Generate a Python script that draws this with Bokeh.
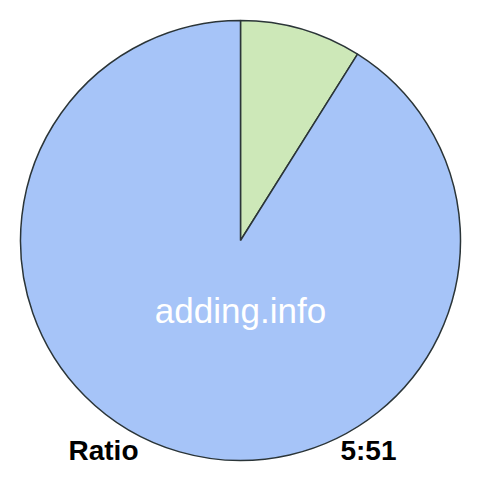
import math
from bokeh.plotting import figure
from bokeh.models import Range1d, ColumnDataSource
from bokeh.core.properties import value
from bokeh.embed import file_html
from bokeh.resources import INLINE

labels = ["5", "51"]
values = [5, 51]
colors = ["#cde8b8", "#a6c4f8"]
ratio_label = "Ratio"
ratio_text = "5:51"
watermark = "adding.info"

total = sum(values)
ends = []
starts = []
cur = math.pi / 2
for v in values:
    ang = v / total * 2 * math.pi
    # clockwise from top
    starts.append(cur - ang)
    ends.append(cur)
    cur -= ang

src = ColumnDataSource(dict(start=starts, end=ends, color=colors, label=labels))

W = 464
H = 464
p = figure(width=W, height=H, output_backend="svg", toolbar_location=None,
           x_range=Range1d(0, W), y_range=Range1d(0, H), min_border=0)
p.axis.visible = False
p.grid.visible = False
p.outline_line_color = None
p.background_fill_color = "white"
p.border_fill_color = "white"

cx, cy = 240, H - 240

p.wedge(x=cx, y=cy, radius=220, start_angle="start", end_angle="end",
        fill_color="color", line_color="#2b3538", line_width=1.5, source=src)

p.text(x=[240], y=[H - 310], text=[watermark], text_color="white",
       text_font=value("Liberation Sans"), text_font_size="35px",
       text_align="center", text_baseline="middle")

p.text(x=[68], y=[H - 450], text=[ratio_label], text_color="black",
       text_font=value("Liberation Sans"), text_font_size="28px",
       text_font_style="bold", text_align="left", text_baseline="middle")
p.text(x=[396], y=[H - 450], text=[ratio_text], text_color="black",
       text_font=value("Liberation Sans"), text_font_size="28px",
       text_font_style="bold", text_align="right", text_baseline="middle")

open("out.html", "w").write(file_html(p, INLINE))
